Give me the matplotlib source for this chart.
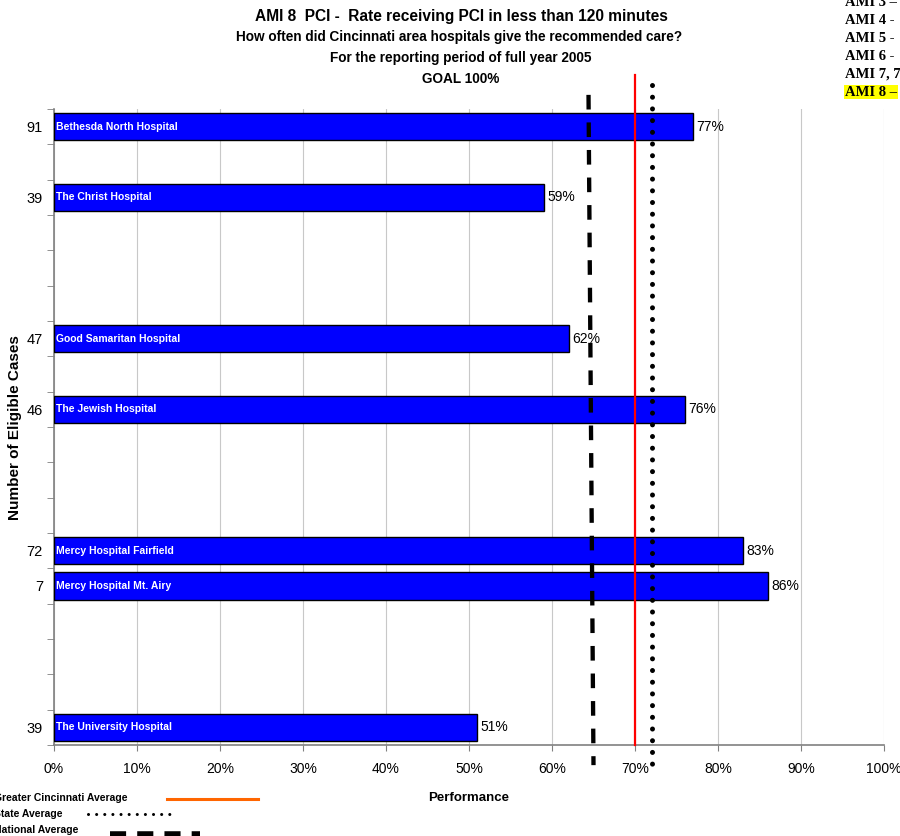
import matplotlib
matplotlib.use("Agg")
import matplotlib.pyplot as plt
from matplotlib.ticker import FixedLocator, PercentFormatter

plt.rcParams['font.family'] = ['Liberation Sans', 'DejaVu Sans']

# Hospital results: name, eligible cases, performance (%), category slot
hospitals = ["Bethesda North Hospital", "The Christ Hospital", "Good Samaritan Hospital",
             "The Jewish Hospital", "Mercy Hospital Fairfield", "Mercy Hospital Mt. Airy",
             "The University Hospital"]
cases = [91, 39, 47, 46, 72, 7, 39]
performance = [77, 59, 62, 76, 83, 86, 51]
slots = [0, 2, 6, 8, 12, 13, 17]
n_slots = 18

# Reference averages (%)
greater_cincinnati_avg = 70
state_avg = 72
national_avg_top, national_avg_bottom = 64.4, 65.0

x_ticks = [0, 10, 20, 30, 40, 50, 60, 70, 80, 90, 100]

W, H = 900, 836
fig = plt.figure(figsize=(W / 100, H / 100), dpi=100)
ax = fig.add_axes([54 / W, 1 - 745 / H, (884 - 54) / W, (745 - 109) / H])

ax.barh(slots, performance, height=0.78, color="#0000FF", edgecolor="black",
        linewidth=1.0, zorder=3)

for s, name, v in zip(slots, hospitals, performance):
    ax.text(0.3, s, name, color="white", fontsize=7.5, fontweight="bold",
            va="center", ha="left", zorder=4)
    ax.text(v + 0.4, s, f"{v}%", fontsize=10, va="center", ha="left", zorder=4)

ax.set_xlim(0, 100)
ax.set_ylim(n_slots - 0.5, -0.5)

ax.xaxis.set_major_locator(FixedLocator(x_ticks))
ax.xaxis.set_major_formatter(PercentFormatter(decimals=0))
ax.tick_params(axis="x", labelsize=10, length=4, color="#808080", pad=8)
ax.grid(axis="x", color="#C8C8C8", linewidth=0.8, zorder=0)

ax.set_yticks(slots)
ax.set_yticklabels([str(c) for c in cases], fontsize=10.5)
ax.tick_params(axis="y", length=0, pad=8)
ax.set_yticks([i - 0.5 for i in range(n_slots + 1)], minor=True)
ax.tick_params(axis="y", which="minor", length=5, color="#808080")

for side in ("top", "right"):
    ax.spines[side].set_visible(False)
for side in ("left", "bottom"):
    ax.spines[side].set_color("#808080")
    ax.spines[side].set_linewidth(1.2)

ax.set_xlabel("Performance", fontsize=9.5, fontweight="bold")
ax.xaxis.set_label_coords((469 - 54) / 830, -(792 - 745) / 636)
ax.set_ylabel("Number of Eligible Cases", fontsize=11, fontweight="bold")
ax.yaxis.set_label_coords((22 - 54) / 830, (745 - 428) / 636)

# Average lines across the chart
ax.plot([greater_cincinnati_avg, greater_cincinnati_avg], [-1.46, 17.5],
        color="#FF0000", linewidth=1.6, clip_on=False, zorder=5)
ax.plot([state_avg, state_avg], [-1.18, 18.15], color="black", linewidth=3.6,
        linestyle=(0, (0.01, 2.33)), dash_capstyle="round", clip_on=False, zorder=5)
ax.plot([national_avg_top, national_avg_bottom], [-0.9, 18.07], color="black",
        linewidth=3.1, linestyle=(0, (3.4, 3.0)), clip_on=False, zorder=5)

# Titles
fig.text(461 / W, 1 - 17 / H, "AMI 8  PCI -  Rate receiving PCI in less than 120 minutes",
         ha="center", va="center", fontsize=11.2, fontweight="bold")
fig.text(459 / W, 1 - 37 / H, "How often did Cincinnati area hospitals give the recommended care?",
         ha="center", va="center", fontsize=9.8, fontweight="bold")
fig.text(461 / W, 1 - 58 / H, "For the reporting period of full year 2005",
         ha="center", va="center", fontsize=9.8, fontweight="bold")
fig.text(461 / W, 1 - 79 / H, "GOAL 100%",
         ha="center", va="center", fontsize=9.8, fontweight="bold")

# Measure list in the top-right corner
ami_items = ["AMI 3 \u2013", "AMI 4 -", "AMI 5 -", "AMI 6 -", "AMI 7, 7", "AMI 8 \u2013"]
for i, item in enumerate(ami_items):
    y = 3 + i * 17.8
    kw = {}
    if i == len(ami_items) - 1:
        kw["bbox"] = dict(boxstyle="square,pad=0.05", facecolor="#FFFF00", edgecolor="none")
    fig.text(845 / W, 1 - y / H, item, ha="left", va="center", fontsize=10.5,
             fontweight="bold", family=["Liberation Serif", "DejaVu Serif"], **kw)

# Legend for the average lines
fig.text(128 / W, 1 - 798 / H, "Greater Cincinnati Average", ha="right", va="center",
         fontsize=7.5, fontweight="bold")
fig.text(62 / W, 1 - 814 / H, "State Average", ha="right", va="center",
         fontsize=7.5, fontweight="bold")
fig.text(78 / W, 1 - 830 / H, "National Average", ha="right", va="center",
         fontsize=7.5, fontweight="bold")
fig.add_artist(plt.Line2D([167 / W, 258 / W], [1 - 799 / H, 1 - 799 / H],
                          color="#FF6600", linewidth=2.2, transform=fig.transFigure))
fig.add_artist(plt.Line2D([88 / W, 171 / W], [1 - 814 / H, 1 - 814 / H],
                          color="black", linewidth=2.2, linestyle=(0, (0.01, 2.65)),
                          dash_capstyle="round", transform=fig.transFigure))
fig.add_artist(plt.Line2D([110 / W, 200 / W], [1 - 834 / H, 1 - 834 / H],
                          color="black", linewidth=4, linestyle=(0, (2.9, 2.0)),
                          transform=fig.transFigure))

fig.savefig("out.png", dpi=100)
